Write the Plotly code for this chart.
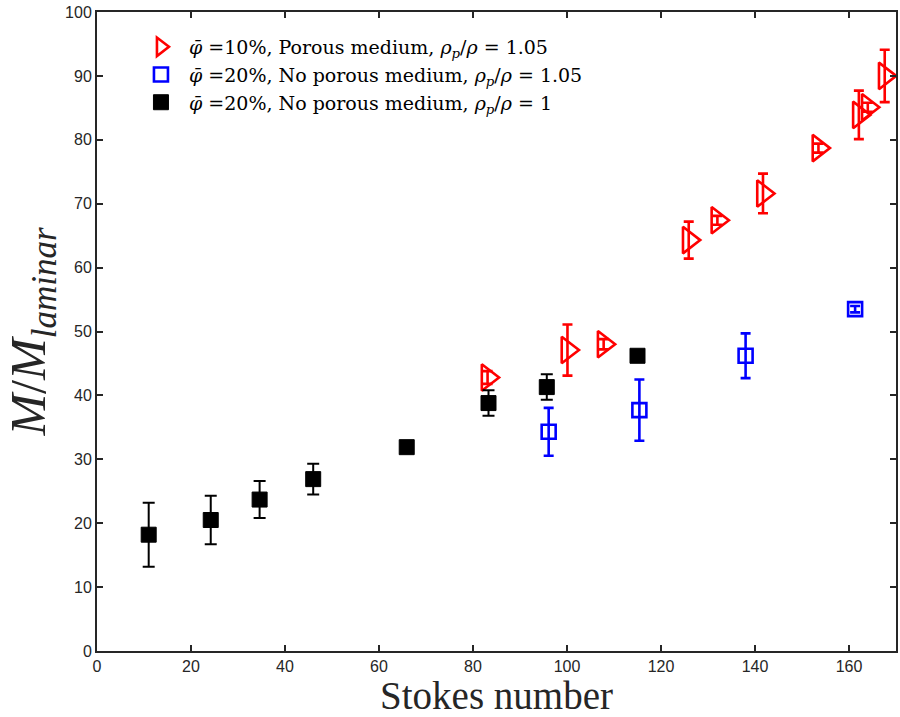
import plotly.graph_objects as go

# Data
red_x = [83.1, 100.1, 107.8, 125.9, 132.0, 141.7, 153.5, 162.1, 164.0, 167.6]
red_y = [42.8, 47.1, 48.0, 64.3, 67.4, 71.6, 78.7, 83.9, 85.1, 90.0]
red_err = [1.0, 4.0, 0.8, 2.9, 0.7, 3.1, 0.7, 3.8, 0.7, 4.1]

blue_x = [96.1, 115.4, 138.0, 161.3]
blue_y = [34.3, 37.7, 46.2, 53.5]
blue_err = [3.75, 4.8, 3.5, 0.5]

black_x = [11.0, 24.2, 34.6, 46.0, 65.9, 83.3, 95.7, 115.0]
black_y = [18.2, 20.5, 23.7, 26.9, 31.9, 38.8, 41.3, 46.2]
black_err = [5.0, 3.8, 2.9, 2.4, 0.4, 2.0, 2.0, 0.4]

x_ticks = [0, 20, 40, 60, 80, 100, 120, 140, 160]
y_ticks = [0, 10, 20, 30, 40, 50, 60, 70, 80, 90, 100]

names = [
    "<i>φ̄</i> =10%, Porous medium, <i>ρ<sub>p</sub></i>/<i>ρ</i> = 1.05",
    "<i>φ̄</i> =20%, No porous medium, <i>ρ<sub>p</sub></i>/<i>ρ</i> = 1.05",
    "<i>φ̄</i> =20%, No porous medium, <i>ρ<sub>p</sub></i>/<i>ρ</i> = 1",
]

fig = go.Figure()
fig.add_trace(go.Scatter(
    x=red_x, y=red_y, mode="markers", name=names[0],
    marker=dict(symbol="triangle-right-open", size=23, color="#ff0000",
                line=dict(width=2.6, color="#ff0000")),
    error_y=dict(type="data", array=red_err, visible=True, color="#ff0000",
                 thickness=2.6, width=5),
))
fig.add_trace(go.Scatter(
    x=blue_x, y=blue_y, mode="markers", name=names[1],
    marker=dict(symbol="square-open", size=14, color="#0000ff",
                line=dict(width=2.6, color="#0000ff")),
    error_y=dict(type="data", array=blue_err, visible=True, color="#0000ff",
                 thickness=2.6, width=5),
))
fig.add_trace(go.Scatter(
    x=black_x, y=black_y, mode="markers", name=names[2],
    marker=dict(symbol="square", size=15, color="#000000",
                line=dict(width=1, color="#000000")),
    error_y=dict(type="data", array=black_err, visible=True, color="#000000",
                 thickness=2, width=6),
))

axis_common = dict(
    showline=True, linecolor="#262626", linewidth=2, mirror="ticks",
    ticks="inside", ticklen=6, tickwidth=1.5, tickcolor="#262626",
    showgrid=False, zeroline=False,
    tickfont=dict(family="Liberation Sans, Arial, sans-serif", size=16, color="#262626"),
)

fig.update_layout(
    width=900, height=717,
    margin=dict(l=97, r=2, t=12, b=66),
    paper_bgcolor="white", plot_bgcolor="white",
    xaxis=dict(range=[0, 170], tickvals=x_ticks,
               title=dict(text="Stokes number", standoff=5,
                          font=dict(family="Liberation Serif, DejaVu Serif, serif", size=39, color="#262626")),
               **axis_common),
    yaxis=dict(range=[0, 100], tickvals=y_ticks,
               title=dict(text="<i>M</i>/<i>M<sub>laminar</sub></i>", standoff=4,
                          font=dict(family="Liberation Serif, DejaVu Serif, serif", size=50, color="#262626")),
               **axis_common),
    legend=dict(x=0.045, y=0.975, xanchor="left", yanchor="top",
                bgcolor="rgba(0,0,0,0)", borderwidth=0, itemwidth=46,
                font=dict(family="DejaVu Serif, serif", size=19, color="#000000"),
                tracegroupgap=0),
    showlegend=True,
)

fig.write_html("out.html")
